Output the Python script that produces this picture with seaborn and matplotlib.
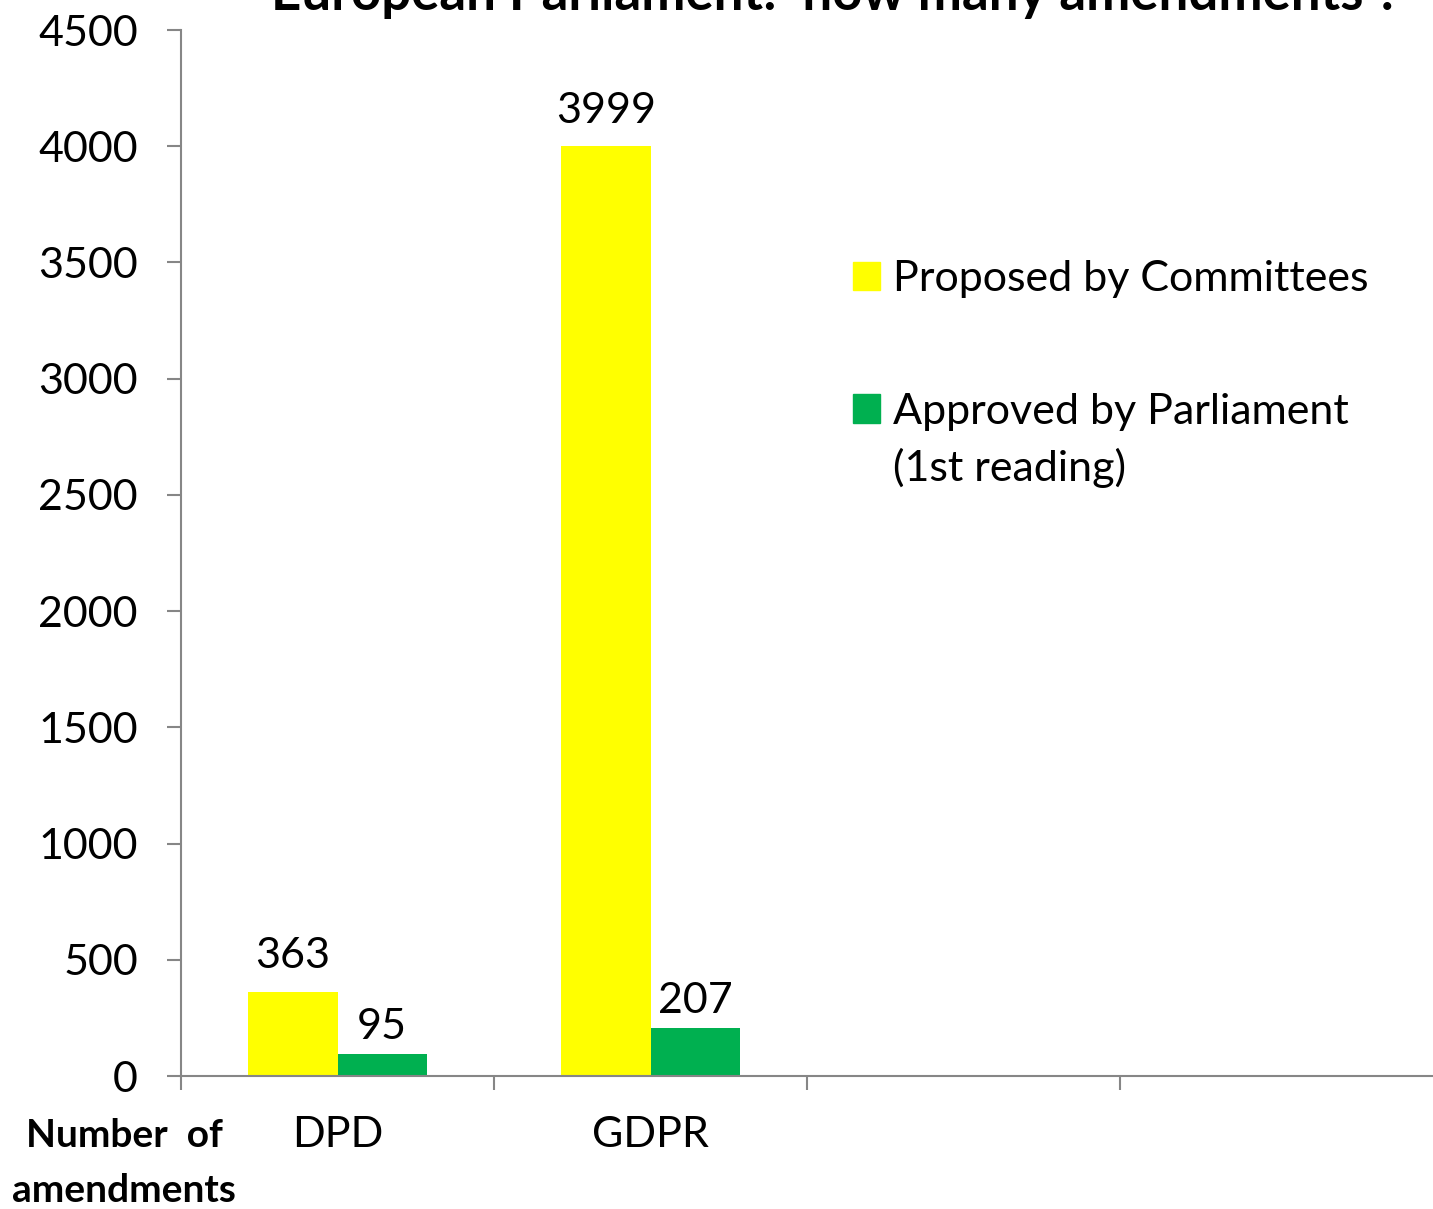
import matplotlib
matplotlib.use("Agg")
import matplotlib.pyplot as plt
import matplotlib.patches as mpatches
import pandas as pd
import seaborn as sns

# values
categories = ["DPD", "GDPR"]
proposed = [363, 3999]
approved = [95, 207]
series_names = ["Proposed by Committees", "Approved by Parliament"]
series_colors = ["#FFFF00", "#00B050"]
yticks = list(range(0, 4501, 500))

df = pd.DataFrame({
    "law": categories * 2,
    "series": [series_names[0]] * 2 + [series_names[1]] * 2,
    "amendments": proposed + approved,
})

sns.set_theme(style="white")
plt.rcParams["font.family"] = ["Lato", "DejaVu Sans"]
plt.rcParams["text.color"] = "black"
plt.rcParams["xtick.color"] = "black"
plt.rcParams["ytick.color"] = "black"

W, H = 1433, 1209
fig = plt.figure(figsize=(W / 100, H / 100), dpi=100)
ax = fig.add_axes([181 / W, 133 / H, 1 - 181 / W, (1179 - 133) / H])

sns.barplot(data=df, x="law", y="amendments", hue="series", order=categories,
            hue_order=series_names, palette=series_colors, width=0.57, gap=0,
            saturation=1, linewidth=0, ax=ax, legend=False)

# four slots on the axis, only two used
ax.set_xlim(-0.5, 3.5)
ax.set_ylim(0, 4500)
ax.set_yticks(yticks)
ax.set_yticklabels([str(t) for t in yticks], fontsize=31)
ax.set_xticks([-0.5, 0.5, 1.5, 2.5])
ax.set_xticklabels([])
ax.set_xticks([0, 1], minor=True)
ax.set_xticklabels(categories, minor=True, fontsize=31)
ax.set_xlabel("")
ax.set_ylabel("")

grey = "#868686"
for side in ["top", "right"]:
    ax.spines[side].set_visible(False)
for side in ["left", "bottom"]:
    ax.spines[side].set_color(grey)
    ax.spines[side].set_linewidth(1.5)
ax.tick_params(axis="both", which="major", length=10, width=1.5, color=grey,
               labelcolor="black", direction="out", left=True, bottom=True)
ax.tick_params(axis="y", pad=21)
ax.tick_params(axis="x", which="minor", length=0, pad=29, bottom=True,
               labelbottom=True, labelcolor="black")

for cont, pad in zip(ax.containers, [12, 6]):
    ax.bar_label(cont, fmt="%d", fontsize=31, padding=pad, color="black")

handles = [mpatches.Patch(color=c, label=n) for c, n in zip(series_colors, series_names)]
ax.legend(handles=handles, loc="upper left", bbox_to_anchor=(853 / W, 1 - 260 / H),
          bbox_transform=fig.transFigure, frameon=False, fontsize=31,
          handlelength=0.63, handleheight=0.63, handletextpad=0.3,
          labelspacing=2.2, borderpad=0, borderaxespad=0, labelcolor="black")
fig.text(893 / W, 1 - 468 / H, "(1st reading)", fontsize=31, va="center", ha="left")

fig.text(836 / W, 1 - 10 / H, "European Parliament:  how many amendments ?",
         fontsize=38, fontweight="bold", ha="center", va="baseline")
fig.text(124 / W, 1 - 1163 / H, "Number  of\namendments", fontsize=28,
         fontweight="bold", ha="center", va="center", linespacing=1.7)

fig.savefig("out.png", dpi=100)
